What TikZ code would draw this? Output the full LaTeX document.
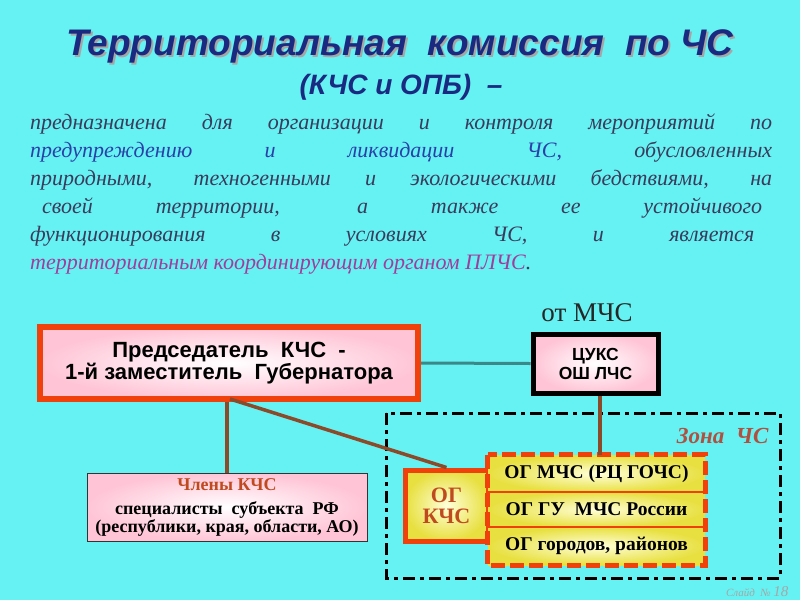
\documentclass[tikz,border=0pt]{standalone}
\usepackage{fontspec}
\setmainfont{Liberation Serif}
\setsansfont{Liberation Sans}
\newfontfamily\arialf{Liberation Sans}
\definecolor{bg}{HTML}{66F2F2}
\definecolor{navy}{HTML}{1A2A80}
\definecolor{bodyc}{HTML}{3A3A5C}
\definecolor{blu}{HTML}{2A40A8}
\definecolor{purp}{HTML}{A03C9C}
\definecolor{redb}{HTML}{F0400C}
\definecolor{brn}{HTML}{8B4A2A}
\definecolor{tealc}{HTML}{3A8888}
\definecolor{ogc}{HTML}{C04A20}
\definecolor{zonec}{HTML}{B05040}
\definecolor{yel}{HTML}{E8E040}
\tikzset{
 box/.style={draw, minimum width=#1, inner sep=0pt, align=center},
 pinkfill/.style={inner color=white, outer color=pink!90!magenta!70},
 yelfill/.style={inner color=yellow!15, outer color=yel},
 conn/.style={line width=3.5pt, brn},
 titlef/.style={font=\arialf\bfseries\itshape\fontsize{37}{40}\selectfont},
 subf/.style={font=\arialf\bfseries\itshape\fontsize{28}{30}\selectfont},
}
\begin{document}
\begin{tikzpicture}[x=1pt,y=-1pt]
\fill[bg] (0,0) rectangle (800,600);
\useasboundingbox (0,0) rectangle (800,600);
% title
\node[titlef, text=gray!70] (titleshadow) at (402,48) {Территориальная\ \ комиссия\ \ по\ ЧС};
\node[titlef, text=navy] (title) at (400,46) {Территориальная\ \ комиссия\ \ по\ ЧС};
\node[subf, text=navy] (sub) at (401,87) {(КЧС и ОПБ)\ \ –};
% body text
\node[anchor=north west, text width=742pt, align=justify, inner sep=0pt, text=bodyc,
 font=\itshape\fontsize{22}{28}\selectfont] (body) at (30,114) {%
предназначена для организации и контроля мероприятий по\linebreak
\textcolor{blu}{предупреждению и ликвидации ЧС,} обусловленных\linebreak
природными, техногенными и экологическими бедствиями, на\linebreak
\hspace*{12pt}своей территории, а также ее устойчивого\hspace*{10pt}\linebreak
функционирования в условиях ЧС, и является\hspace*{18pt}\linebreak
\textcolor{purp}{территориальным координирующим органом ПЛЧС}.};
% chairman
\node[box=378pt, minimum height=72pt, draw=redb, line width=6pt, pinkfill,
 font=\arialf\bfseries\fontsize{22}{22}\selectfont] (chair) at (229,363)
 {Председатель\ \ КЧС\ \ -\\ 1-й\ заместитель\ \ Губернатора};
% members
\node[box=280pt, minimum height=68pt, draw=black!80, line width=1pt, pinkfill,
 font=\bfseries\fontsize{18}{18}\selectfont] (memb) at (227,507)
 {\textcolor{ogc}{Члены КЧС}\\[6pt] специалисты\ \ субъекта\ \ РФ\\ (республики, края, области, АО)};
% ЦУКС
\node[box=125pt, minimum height=59pt, draw=black, line width=5pt, pinkfill,
 font=\arialf\bfseries\fontsize{17.5}{19}\selectfont] (cuks) at (595.5,363.5) {ЦУКС\\ ОШ ЛЧС};
\node[font=\fontsize{27}{28}\selectfont, text=black!85] (ot) at (587,313) {от МЧС};
% zone
\draw[line width=3pt, black, dash pattern=on 12pt off 5pt on 4pt off 5pt] (386,413) rectangle (780,578);
\node[font=\bfseries\itshape\fontsize{23}{24}\selectfont, text=zonec, anchor=east] (zone) at (772,436) {Зона\ \ ЧС};
% ОГ КЧС
\node[box=83pt, minimum height=71pt, draw=redb, line width=5pt, yelfill,
 font=\bfseries\fontsize{22}{21}\selectfont, text=ogc] (ogk) at (446.5,505.5) {ОГ\\КЧС};
% right group
\node[box=217pt, minimum height=37pt, yelfill, draw=none, font=\bfseries\fontsize{19.5}{20}\selectfont] (r1) at (596.5,473.5) {ОГ МЧС (РЦ ГОЧС)};
\node[box=217pt, minimum height=35pt, yelfill, draw=none, font=\bfseries\fontsize{19.5}{20}\selectfont] (r2) at (596.5,509.5) {ОГ ГУ\ \ МЧС России};
\node[box=217pt, minimum height=38pt, yelfill, draw=none, font=\bfseries\fontsize{19.5}{20}\selectfont] (r3) at (596.5,546) {ОГ городов, районов};
\draw[redb, line width=2.5pt] (r1.south west) -- (r1.south east) (r2.south west) -- (r2.south east);
\draw[redb, line width=5pt, dash pattern=on 14pt off 5pt] (r1.north west) rectangle (r3.south east);
% connectors
\draw[tealc, line width=3pt] (chair.east) -- (cuks.west);
\draw[conn] (chair.south -| memb.north) -- (memb.north);
\draw[conn] (230,399) -- (ogk.north);
\draw[conn] (cuks.south -| 600,0) -- (r1.north -| 600,0);
% slide number
\node[font=\itshape\fontsize{11}{12}\selectfont, text=gray!70, anchor=east] (num) at (792,592) {Слайд\ \ № \fontsize{15}{15}\selectfont 18};
\end{tikzpicture}
\end{document}
